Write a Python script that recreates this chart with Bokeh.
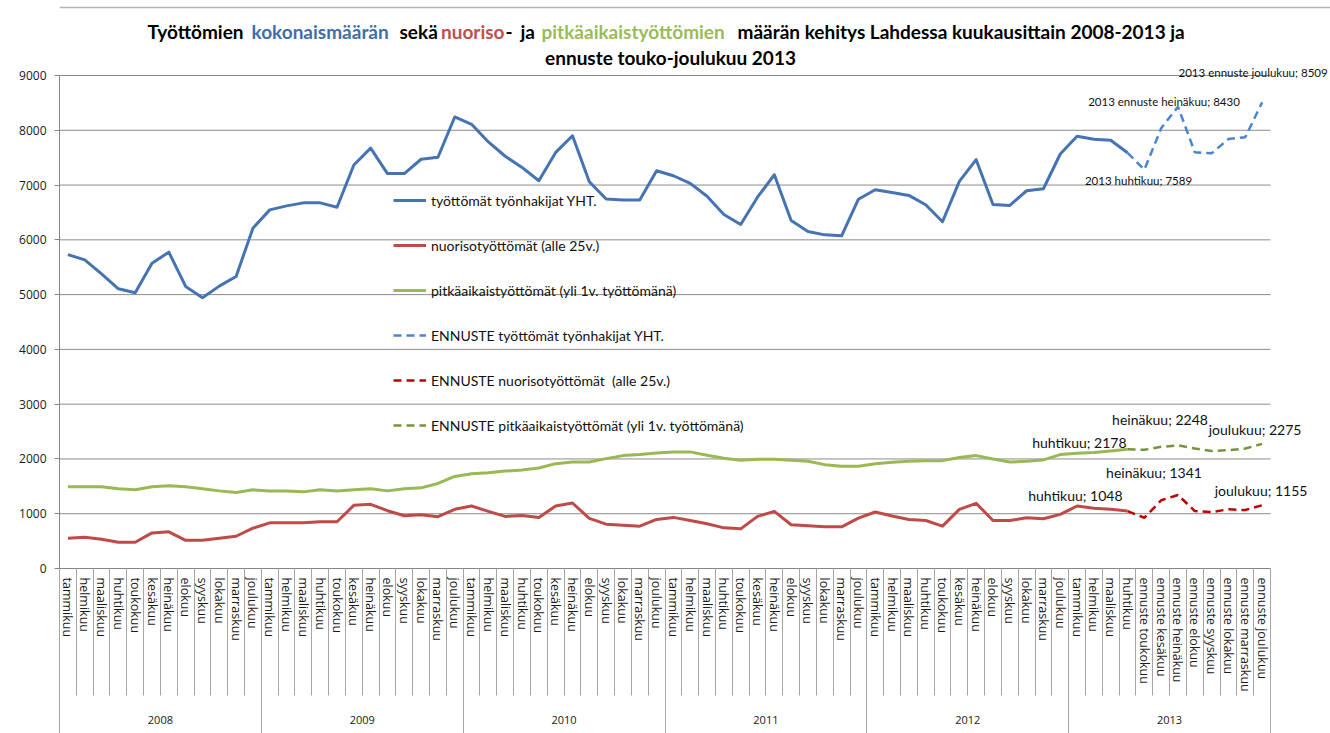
from bokeh.plotting import figure
from bokeh.models import Range1d, LinearAxis, FixedTicker, Legend, LegendItem, Label, Span
from bokeh.embed import file_html
from bokeh.resources import INLINE

# ---------------- data ----------------
years = ["2008", "2009", "2010", "2011", "2012", "2013"]
months = ["tammikuu", "helmikuu", "maaliskuu", "huhtikuu", "toukokuu", "kesäkuu",
          "heinäkuu", "elokuu", "syyskuu", "lokakuu", "marraskuu", "joulukuu"]
months_2013 = ["tammikuu", "helmikuu", "maaliskuu", "huhtikuu",
               "ennuste toukokuu", "ennuste kesäkuu", "ennuste heinäkuu", "ennuste elokuu",
               "ennuste syyskuu", "ennuste lokakuu", "ennuste marraskuu", "ennuste joulukuu"]

# työttömät työnhakijat YHT. (2008/01 - 2013/04)
total = [5730, 5635, 5380, 5106, 5033, 5574, 5775, 5149, 4943, 5155, 5331, 6213,
         6547, 6620, 6675, 6675, 6596, 7365, 7675, 7210, 7210, 7471, 7507, 8243,
         8110, 7787, 7526, 7322, 7079, 7596, 7900, 7061, 6745, 6726, 6726, 7261,
         7170, 7030, 6796, 6462, 6280, 6778, 7188, 6353, 6152, 6091, 6073, 6742,
         6915, 6866, 6811, 6640, 6330, 7067, 7463, 6646, 6628, 6896, 6933, 7567,
         7890, 7835, 7817, 7589]
# ENNUSTE (2013/04 - 2013/12)
total_fc = [7589, 7280, 8037, 8430, 7597, 7579, 7841, 7872, 8509]

# nuorisotyöttömät (alle 25v.)
youth = [552, 571, 534, 479, 479, 650, 669, 515, 515, 552, 589, 736,
         834, 834, 834, 853, 853, 1153, 1172, 1055, 963, 982, 945, 1080,
         1141, 1043, 951, 969, 933, 1141, 1196, 914, 810, 791, 773, 896,
         933, 877, 816, 742, 724, 951, 1043, 798, 779, 761, 761, 920,
         1031, 957, 896, 877, 773, 1080, 1190, 877, 877, 926, 908, 988,
         1141, 1098, 1080, 1048]
youth_fc = [1048, 926, 1245, 1341, 1049, 1031, 1080, 1067, 1155]

# pitkäaikaistyöttömät (yli 1v. työttömänä)
longterm = [1491, 1491, 1491, 1454, 1436, 1491, 1509, 1491, 1454, 1417, 1387, 1436,
            1417, 1417, 1399, 1436, 1417, 1436, 1454, 1417, 1454, 1472, 1552, 1681,
            1730, 1748, 1779, 1798, 1834, 1914, 1945, 1945, 2006, 2061, 2080, 2110,
            2129, 2129, 2067, 2012, 1975, 1994, 1994, 1975, 1957, 1896, 1865, 1865,
            1914, 1939, 1957, 1969, 1969, 2025, 2061, 2000, 1945, 1957, 1982, 2080,
            2104, 2117, 2147, 2178]
longterm_fc = [2178, 2166, 2221, 2248, 2190, 2147, 2160, 2190, 2275]

y_ticks = [0, 1000, 2000, 3000, 4000, 5000, 6000, 7000, 8000, 9000]

series_names = ["työttömät työnhakijat YHT.", "nuorisotyöttömät (alle 25v.)",
                "pitkäaikaistyöttömät (yli 1v. työttömänä)",
                "ENNUSTE työttömät työnhakijat YHT.", "ENNUSTE nuorisotyöttömät  (alle 25v.)",
                "ENNUSTE pitkäaikaistyöttömät (yli 1v. työttömänä)"]

# ---------------- derived ----------------
cat_labels = [m for y in years[:-1] for m in months] + months_2013
n = len(cat_labels)
x_hist = list(range(len(total)))
fc_start = len(total) - 1
x_fc = list(range(fc_start, fc_start + len(total_fc)))
y_max = y_ticks[-1]

BLUE = "#4674b2"
BLUE_FC = "#4a86cf"
RED = "#be4b48"
RED_FC = "#c00000"
GREEN = "#98b954"
GREEN_FC = "#77933c"
GRID = "#8c8c8c"
SEP = "#a6a6a6"

W, H = 1330, 733
LEFT, BOTTOM = 59, 165
PLOT_W, PLOT_H = 1211, 493          # size of the category/value area
# the frame also covers the title band above and the label space on the right
x_end = -0.5 + n * (W - LEFT) / PLOT_W
y_end = y_max * (H - BOTTOM) / PLOT_H

p = figure(width=W, height=H, x_range=Range1d(-0.5, x_end), y_range=Range1d(0, y_end),
           x_axis_type=None, output_backend="svg", toolbar_location=None,
           min_border_left=LEFT, min_border_right=0, min_border_top=0, min_border_bottom=BOTTOM)
p.outline_line_color = None
p.background_fill_color = "white"
p.border_fill_color = "white"
p.grid.visible = False

# chart-area border line near the top edge
p.add_layout(Span(location=y_max * (H - BOTTOM - 7) / PLOT_H, dimension="width",
                  line_color="#b4b4b4", line_width=1.5))

# horizontal gridlines only across the category area
p.segment(x0=-0.5, x1=n - 0.5, y0=y_ticks, y1=y_ticks, line_color=GRID, line_width=1)

# y axis
p.yaxis.ticker = FixedTicker(ticks=y_ticks)
p.yaxis.bounds = (0, y_max)
p.yaxis.axis_line_color = "#868686"
p.yaxis.major_tick_out = 5
p.yaxis.major_tick_in = 0
p.yaxis.minor_tick_out = 0
p.yaxis.minor_tick_in = 0
p.yaxis.major_tick_line_color = "#868686"
p.yaxis.major_label_standoff = 8
p.yaxis.major_label_text_font = "Open Sans"
p.yaxis.major_label_text_font_size = "12px"
p.yaxis.major_label_text_color = "#1a1a1a"

# month axis: separators are minor ticks at category borders
month_ticks = list(range(n))
month_seps = [i - 0.5 for i in range(n + 1)]
ax1 = LinearAxis(ticker=FixedTicker(ticks=month_ticks, minor_ticks=month_seps),
                 bounds=(-0.5, n - 0.5),
                 major_label_overrides={i: lab for i, lab in enumerate(cat_labels)},
                 major_label_orientation="vertical",
                 major_tick_out=0, major_tick_in=0,
                 minor_tick_out=127, minor_tick_in=0, minor_tick_line_color=SEP,
                 axis_line_color="#868686", major_label_standoff=-118,
                 major_label_text_font="Open Sans", major_label_text_font_size="12.5px",
                 major_label_text_color="#1a1a1a")
p.add_layout(ax1, "below")

# year axis
year_ticks = [12 * i + 5.5 for i in range(len(years))]
year_seps = [12 * i - 0.5 for i in range(len(years) + 1)]
ax2 = LinearAxis(ticker=FixedTicker(ticks=year_ticks, minor_ticks=year_seps),
                 bounds=(-0.5, n - 0.5),
                 major_label_overrides={t: y for t, y in zip(year_ticks, years)},
                 major_tick_out=0, major_tick_in=0,
                 minor_tick_out=60, minor_tick_in=0, minor_tick_line_color=SEP,
                 axis_line_color=None, major_label_standoff=-39,
                 major_label_text_font="Open Sans", major_label_text_font_size="11px",
                 major_label_text_color="#1a1a1a")
p.add_layout(ax2, "below")

# lines
r_tot = p.line(x_hist, total, line_color=BLUE, line_width=3, line_join="round")
r_you = p.line(x_hist, youth, line_color=RED, line_width=3, line_join="round")
r_lon = p.line(x_hist, longterm, line_color=GREEN, line_width=3, line_join="round")
r_tot_fc = p.line(x_fc, total_fc, line_color=BLUE_FC, line_width=2.5, line_dash="8 5")
r_you_fc = p.line(x_fc, youth_fc, line_color=RED_FC, line_width=2.5, line_dash="8 5")
r_lon_fc = p.line(x_fc, longterm_fc, line_color=GREEN_FC, line_width=2.5, line_dash="8 5")

legend = Legend(items=[LegendItem(label=lbl, renderers=[r]) for lbl, r in
                       zip(series_names, [r_tot, r_you, r_lon, r_tot_fc, r_you_fc, r_lon_fc])],
                location=(334, 133), orientation="vertical",
                glyph_width=33, glyph_height=20, label_height=20, spacing=25,
                label_standoff=5, padding=0, margin=0,
                border_line_color=None, background_fill_alpha=0,
                label_text_font="Lato", label_text_font_size="14px", label_text_color="#111111")
p.add_layout(legend)

# data labels
def dlabel(xi, yv, text, dx, dy, size, align="center"):
    p.add_layout(Label(x=xi, y=yv, text=text, x_offset=dx, y_offset=dy,
                       text_align=align, text_baseline="middle",
                       text_font="Lato", text_font_size=size, text_color="#111111"))

i_apr = fc_start
i_jul = fc_start + 3
i_dec = fc_start + 8
dlabel(i_dec, total_fc[-1], f"2013 ennuste joulukuu; {total_fc[-1]}", -9, 30, "11.5px")
dlabel(i_jul, total_fc[3], f"2013 ennuste heinäkuu; {total_fc[3]}", -14, 5, "11.5px")
dlabel(i_apr, total[-1], f"2013 huhtikuu; {total[-1]}", 11, -28, "11.5px")

dlabel(i_apr, longterm[-1], f"huhtikuu; {longterm[-1]}", -1, 7, "14px", "right")
dlabel(i_jul, longterm_fc[3], f"heinäkuu; {longterm_fc[3]}", -18, 26, "14px")
dlabel(i_dec, longterm_fc[-1], f"joulukuu; {longterm_fc[-1]}", -7, 14, "14px")
dlabel(i_jul, youth_fc[3], f"heinäkuu; {youth_fc[3]}", -24, 23, "14px")
dlabel(i_apr, youth[-1], f"huhtikuu; {youth[-1]}", -5, 16, "14px", "right")
dlabel(i_dec, youth_fc[-1], f"joulukuu; {youth_fc[-1]}", -1, 15, "14px")

# title (multi-coloured), positions in screen units relative to the frame's bottom-left
def tlabel(x, y, text, color, align="left"):
    p.add_layout(Label(x=x, y=y, x_units="screen", y_units="screen", text=text,
                       text_align=align, text_baseline="middle", text_font="Lato",
                       text_font_style="bold", text_font_size="19px", text_color=color))

tlabel(88, 537, "Työttömien", "#000000")
tlabel(192, 537, "kokonaismäärän", "#3f6ea8")
tlabel(340, 537, "sekä", "#000000")
tlabel(445, 537, "nuoriso", "#c0504d", "right")
tlabel(446, 537, "-", "#000000")
tlabel(461, 537, "ja", "#000000")
tlabel(482, 537, "pitkäaikaistyöttömien", "#9bbb59")
tlabel(678, 537, "määrän kehitys Lahdessa kuukausittain 2008-2013 ja", "#000000")
tlabel(611, 511, "ennuste touko-joulukuu 2013", "#000000", "center")

open("out.html", "w").write(file_html(p, INLINE))
